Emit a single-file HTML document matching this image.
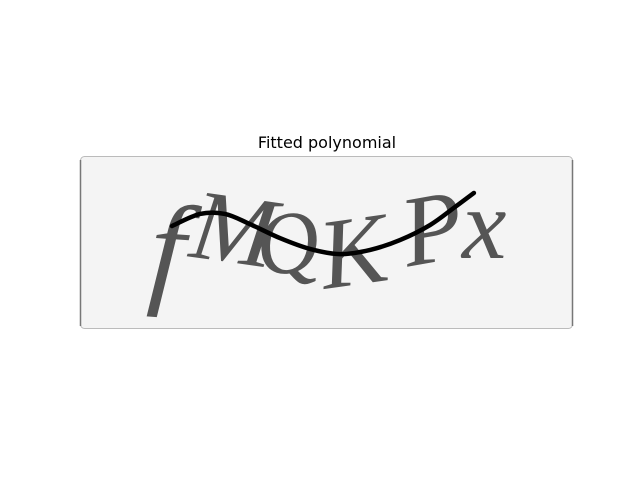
<!DOCTYPE html>
<html><head><meta charset="utf-8"><style>
html,body{margin:0;padding:0;background:#fff;}
svg{display:block;}
</style></head><body>
<svg width="640" height="480">
<text x="327" y="148" text-anchor="middle" font-family="DejaVu Sans, sans-serif" font-size="16" fill="#000">Fitted polynomial</text>
<g>
<rect x="80.5" y="156.5" width="492" height="172" rx="4" fill="#f4f4f4" stroke="#bbb" stroke-width="1"/>
<line x1="80.5" y1="160" x2="80.5" y2="326" stroke="#777" stroke-width="1.5"/>
<line x1="572.5" y1="160" x2="572.5" y2="326" stroke="#777" stroke-width="1.5"/>
<g font-family="Liberation Serif, serif" font-style="italic" fill="#555">
<text x="150" y="292" font-size="125" transform="rotate(4 180 250)">f</text>
<text x="192" y="262" font-size="100" transform="rotate(8 230 230)">M</text>
<text x="255" y="272" font-size="88" transform="rotate(-10 290 240)">Q</text>
<text x="318" y="285" font-size="100" transform="rotate(-8 350 240)">K</text>
<text x="400" y="262" font-size="100" transform="rotate(-10 430 220)">P</text>
<text x="462" y="258" font-size="100">x</text>
</g>
</g>
<g id="curve"></g>
</svg>
<script>
const xs=[37.3,48.7,58.8,68.9,81.1,93.3,105.5,117.7,129.8,142,152.1,159.8];
const ys=[28.4,23.5,23.5,27.6,33.3,37.7,39.8,38.1,34.1,28,20.7,15];
const sx=v=>80+v*2.465, sy=v=>156+v*2.465;
const P=xs.map((x,i)=>[sx(x),sy(ys[i])]);
let d='M'+P[0][0]+','+P[0][1];
for(let i=0;i<P.length-1;i++){
  const p0=P[Math.max(0,i-1)],p1=P[i],p2=P[i+1],p3=P[Math.min(P.length-1,i+2)];
  const c1=[p1[0]+(p2[0]-p0[0])/6,p1[1]+(p2[1]-p0[1])/6];
  const c2=[p2[0]-(p3[0]-p1[0])/6,p2[1]-(p3[1]-p1[1])/6];
  d+=' C'+c1+' '+c2+' '+p2;
}
const pl=document.createElementNS('http://www.w3.org/2000/svg','path');
pl.setAttribute('d',d);
pl.setAttribute('fill','none');pl.setAttribute('stroke','#000');
pl.setAttribute('stroke-width','4.5');pl.setAttribute('stroke-linecap','round');


document.getElementById('curve').appendChild(pl);
</script>
</body></html>
